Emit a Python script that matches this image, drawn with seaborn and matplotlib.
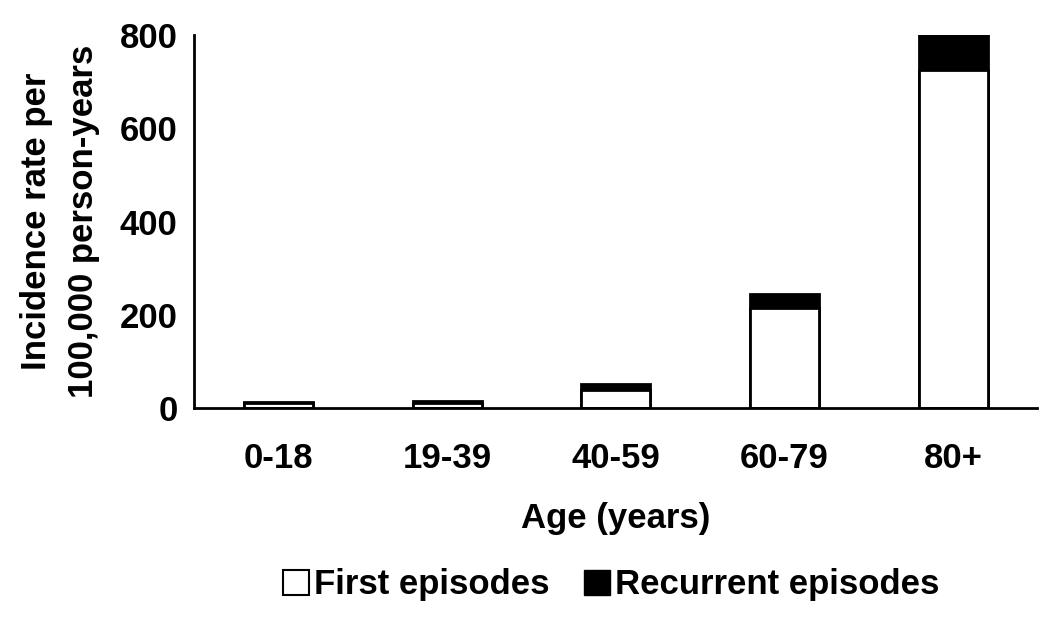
import pandas as pd
import seaborn as sns
import matplotlib.pyplot as plt
from matplotlib.patches import Patch

# Incidence per 100,000 person-years by age group
age_groups = ['0-18', '19-39', '40-59', '60-79', '80+']
first_episodes = [11, 11, 39, 214, 725]
recurrent_episodes = [2, 5, 12, 31, 81]

df = pd.DataFrame({'age': age_groups,
                   'first': first_episodes,
                   'recurrent': recurrent_episodes})
df['total'] = df['first'] + df['recurrent']

sns.set_style('white')
plt.rcParams['font.family'] = ['Liberation Sans', 'DejaVu Sans']
plt.rcParams['font.weight'] = 'bold'
plt.rcParams['text.color'] = 'black'
plt.rcParams['xtick.color'] = 'black'
plt.rcParams['ytick.color'] = 'black'
plt.rcParams['axes.labelcolor'] = 'black'

FS = 25

fig = plt.figure(figsize=(10.5, 6.27), dpi=100)
ax = fig.add_axes([0.185, 0.349, 0.803, 0.595])

# stacked bars: total in black, first episodes in white on top
sns.barplot(data=df, x='age', y='total', color='black', width=0.41,
            edgecolor='black', linewidth=2, saturation=1, ax=ax)
sns.barplot(data=df, x='age', y='first', color='white', width=0.41,
            edgecolor='black', linewidth=2, saturation=1, ax=ax)

ax.set_xlim(-0.5, 4.5)
ax.set_ylim(0, 800)
ax.set_yticks([0, 200, 400, 600, 800])
ax.set_xticks([i - 0.5 for i in range(6)], minor=False)
ax.set_xticklabels([])
ax.set_xticks(range(5), minor=True)
ax.set_xticklabels(age_groups, minor=True)
ax.tick_params(axis='x', which='major', direction='out', length=9, width=2)
ax.tick_params(axis='x', which='minor', length=0, pad=24, labelsize=FS)
ax.tick_params(axis='y', direction='out', length=8, width=2, labelsize=FS, pad=4)

for s in ['top', 'right']:
    ax.spines[s].set_visible(False)
for s in ['left', 'bottom']:
    ax.spines[s].set_linewidth(2)
    ax.spines[s].set_color('black')

ax.set_xlabel('Age (years)', fontsize=FS, fontweight='bold', labelpad=20)
ax.set_ylabel('Incidence rate per\n100,000 person-years', fontsize=FS,
              fontweight='bold', labelpad=14, linespacing=1.55)

handles = [Patch(facecolor='white', edgecolor='black', linewidth=1.5, label='First episodes'),
           Patch(facecolor='black', edgecolor='black', label='Recurrent episodes')]
fig.legend(handles=handles, loc='center', bbox_to_anchor=(0.582, 0.067), ncol=2,
           frameon=False, handlelength=0.75, handleheight=0.75,
           handletextpad=0.15, columnspacing=1.0, prop={'weight': 'bold', 'size': FS})

fig.savefig('out.png', dpi=100)
